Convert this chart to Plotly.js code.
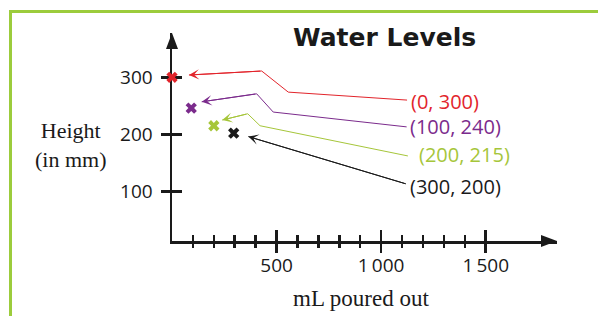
<!DOCTYPE html>
<html>
<head>
<meta charset="utf-8">
<script src="https://cdn.plot.ly/plotly-3.0.1.min.js"></script>
<style>html,body{margin:0;padding:0;background:#fff;}#chart{width:598px;height:316px;}</style>
</head>
<body>
<div id="chart"></div>
<script>
// ---- data ----
var pointX = [0, 92, 200, 295];
var pointY = [300, 246, 215, 202];
var pointLabels = ['(0, 300)', '(100, 240)', '(200, 215)', '(300, 200)'];
var pointColors = ['#e2242b', '#7b2b8c', '#a6c63a', '#1a1a1a'];
var yTickVals = [100, 200, 300];
var yTickText = ['100', '200', '300'];
var xTickVals = [500, 1000, 1500];
var xTickText = ['500', '1\u2009000', '1\u2009500'];
var xMinorVals = [100, 200, 300, 400, 600, 700, 800, 900, 1100, 1200, 1300, 1400];
var titleText = 'Water Levels';
var xTitleText = 'mL poured out';
var yTitleText = 'Height<br>(in mm)';

// callout leader paths (data units), from arrow tip to label end
var calloutPaths = [
  {x: [81, 429, 556, 1124], y: [304, 311, 274, 260]},
  {x: [142, 405, 484, 1122], y: [257, 271, 239, 213]},
  {x: [240, 362, 421, 1128], y: [225, 236, 215, 162]},
  {x: [365, 1119], y: [196, 113]}
];
var labelPos = [
  {x: 1133, y: 257},
  {x: 1130, y: 213},
  {x: 1170, y: 164},
  {x: 1130, y: 108}
];

// ---- layout geometry ----
var W = 598, H = 316, L = 172, R = 41, T = 33, B = 75;
var PW = W - L - R, PH = H - T - B;
function px(x) { return (x - L) / PW; }
function py(y) { return (H - B - y) / PH; }
var xRange = [0, 1841];
var yRange = [12.8, 377.7];
var INK = '#1a1a1a';

var traces = [];
calloutPaths.forEach(function (p, i) {
  traces.push({
    type: 'scatter', mode: 'lines', x: p.x, y: p.y,
    line: {color: pointColors[i], width: 1}, hoverinfo: 'skip', cliponaxis: false, showlegend: false
  });
});
traces.push({
  type: 'scatter', mode: 'markers', x: pointX, y: pointY,
  marker: {symbol: 'x', size: 10, color: pointColors, line: {width: 0}},
  cliponaxis: false, showlegend: false
});

var shapes = [];
// frame
shapes.push({type: 'rect', xref: 'paper', yref: 'paper', x0: px(10.5), x1: px(640), y0: py(360), y1: py(11.5),
  line: {color: '#9ccc3c', width: 3}, layer: 'below'});
// axis arrowheads (decorations, paper coords)
shapes.push({type: 'path', xref: 'paper', yref: 'paper',
  path: 'M ' + px(557) + ' ' + py(241) + ' L ' + px(541) + ' ' + py(235) + ' L ' + px(541) + ' ' + py(247) + ' Z',
  fillcolor: INK, line: {width: 0}});
shapes.push({type: 'path', xref: 'paper', yref: 'paper',
  path: 'M ' + px(172) + ' ' + py(33) + ' L ' + px(166) + ' ' + py(49) + ' L ' + px(178) + ' ' + py(49) + ' Z',
  fillcolor: INK, line: {width: 0}});

var annotations = [];
annotations.push({text: titleText, xref: 'paper', yref: 'paper', x: px(384), y: py(37), xanchor: 'center', yanchor: 'middle',
  showarrow: false, font: {family: 'DejaVu Sans', size: 25, color: INK, weight: 'bold'}});
annotations.push({text: yTitleText, xref: 'paper', yref: 'paper', x: px(71), y: py(145), xanchor: 'center', yanchor: 'middle',
  showarrow: false, font: {family: 'Liberation Serif', size: 22, color: INK}});
annotations.push({text: xTitleText, xref: 'paper', yref: 'paper', x: px(361), y: py(298), xanchor: 'center', yanchor: 'middle',
  showarrow: false, font: {family: 'Liberation Serif', size: 23, color: INK}});
pointLabels.forEach(function (t, i) {
  annotations.push({text: t, xref: 'x', yref: 'y', x: labelPos[i].x, y: labelPos[i].y, xanchor: 'left', yanchor: 'middle',
    showarrow: false, font: {family: 'Open Sans', size: 20, color: pointColors[i]}});
  var p = calloutPaths[i];
  annotations.push({text: '', xref: 'x', yref: 'y', axref: 'x', ayref: 'y', x: p.x[0], y: p.y[0], ax: p.x[1], ay: p.y[1],
    showarrow: true, arrowhead: 3, arrowsize: 1.7, arrowwidth: 1, arrowcolor: pointColors[i], standoff: 0});
});

function tickAxis(base, side) {
  var o = {};
  for (var k in base) o[k] = base[k];
  o.ticks = side;
  return o;
}
var xTickBase = {range: xRange, overlaying: 'x', anchor: 'y', side: 'bottom', showgrid: false, zeroline: false,
  showline: false, showticklabels: false, tickvals: xTickVals, ticklen: 11, tickwidth: 2.5, tickcolor: INK,
  layer: 'below traces', fixedrange: true};
var yTickBase = {range: yRange, overlaying: 'y', anchor: 'x', side: 'left', showgrid: false, zeroline: false,
  showline: false, showticklabels: false, tickvals: yTickVals, ticklen: 10, tickwidth: 2.5, tickcolor: INK,
  layer: 'below traces', fixedrange: true};
var x2 = tickAxis(xTickBase, 'outside');
x2.minor = {tickvals: xMinorVals, ticks: 'outside', ticklen: 6, tickwidth: 2.5, tickcolor: INK, showgrid: false};
var x3 = tickAxis(xTickBase, 'inside');
x3.minor = {tickvals: xMinorVals, ticks: 'inside', ticklen: 6, tickwidth: 2.5, tickcolor: INK, showgrid: false};
var y2 = tickAxis(yTickBase, 'outside');
var y3 = tickAxis(yTickBase, 'inside');

// empty helper traces so the overlay tick axes get drawn
traces.unshift({type: 'scatter', mode: 'none', x: [null], y: [null], xaxis: 'x2', yaxis: 'y2', hoverinfo: 'skip', showlegend: false});
traces.unshift({type: 'scatter', mode: 'none', x: [null], y: [null], xaxis: 'x3', yaxis: 'y3', hoverinfo: 'skip', showlegend: false});

var layout = {
  width: W, height: H, margin: {l: L, r: R, t: T, b: B},
  paper_bgcolor: '#ffffff', plot_bgcolor: 'rgba(0,0,0,0)',
  xaxis: {range: xRange, showgrid: false, zeroline: false, showline: true, linecolor: INK, linewidth: 2.5,
    tickvals: xTickVals, ticktext: xTickText, ticks: '', ticklabelstandoff: 6, layer: 'below traces',
    tickfont: {family: 'Open Sans', size: 19, color: INK}, fixedrange: true},
  yaxis: {range: yRange, showgrid: false, zeroline: false, showline: true, linecolor: INK, linewidth: 2.5,
    tickvals: yTickVals, ticktext: yTickText, ticks: '', ticklabelstandoff: 13, layer: 'below traces',
    tickfont: {family: 'Open Sans', size: 19, color: INK}, fixedrange: true},
  xaxis2: x2, xaxis3: x3, yaxis2: y2, yaxis3: y3,
  shapes: shapes, annotations: annotations, showlegend: false
};
Plotly.newPlot('chart', traces, layout, {displayModeBar: false, staticPlot: true});
</script>
</body>
</html>
